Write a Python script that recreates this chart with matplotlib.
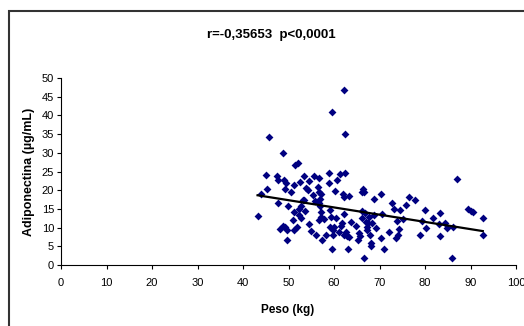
import numpy as np
import matplotlib
matplotlib.use("Agg")
import matplotlib.pyplot as plt
from matplotlib.patches import Rectangle

peso = [43.2, 44.0, 45.1, 45.3, 45.8, 47.5, 47.8, 47.8, 48.1, 48.9, 48.7, 49.0, 49.2, 49.5,
        49.2, 49.6, 49.6, 49.8, 50.6, 50.9, 51.1, 51.1, 51.3, 51.4, 52.0, 51.8, 52.2, 52.3,
        52.5, 52.7, 52.8, 53.1, 53.4, 53.4, 53.6, 53.8, 54.2, 54.4, 54.4, 54.9, 55.3, 55.5,
        55.8, 56.0, 56.4, 56.6, 56.7, 56.7, 56.8, 56.9, 56.9, 57.1, 57.1, 57.1, 57.3, 57.7,
        58.2, 58.9, 59.0, 59.1, 59.2, 59.3, 59.5, 59.6, 59.7, 59.7, 60.0, 60.2, 60.4, 60.7,
        61.0, 61.3, 61.5, 61.7, 61.9, 62.1, 62.1, 62.2, 62.3, 62.5, 62.5, 62.6, 62.8, 63.0,
        63.2, 63.2, 63.8, 64.8, 65.2, 65.5, 65.8, 66.1, 66.1, 66.3, 66.2, 66.7, 66.7, 66.9,
        67.0, 67.2, 67.3, 67.5, 67.8, 68.0, 68.1, 68.1, 68.4, 68.7, 68.8, 69.2, 70.3, 70.3,
        70.6, 70.9, 72.0, 72.8, 73.1, 73.6, 73.8, 74.0, 74.2, 74.4, 75.2, 75.9, 76.5, 77.8,
        78.9, 79.3, 79.9, 80.2, 81.8, 83.0, 83.2, 83.4, 84.5, 84.9, 86.0, 86.2, 87.0, 89.5,
        90.0, 90.5, 92.7, 92.7]
adiponectina = [13.2, 19.1, 24.1, 20.3, 34.1, 23.8, 22.6, 16.6, 9.7, 30.0, 10.5, 22.6, 20.4, 22.0,
                10.1, 9.3, 6.7, 15.8, 19.5, 12.0, 14.3, 9.3, 21.5, 26.7, 27.4, 10.2, 15.0, 13.5,
                22.2, 12.5, 15.7, 17.5, 23.8, 17.3, 14.4, 20.6, 20.0, 22.4, 10.9, 9.0, 18.7, 23.8,
                17.2, 8.1, 20.8, 19.4, 23.2, 16.6, 12.0, 17.6, 15.8, 19.1, 14.1, 12.9, 6.7, 12.4,
                8.0, 22.0, 24.6, 14.7, 10.2, 12.9, 4.4, 40.8, 9.3, 8.0, 10.2, 19.8, 12.6, 22.7,
                8.7, 24.3, 10.4, 11.1, 19.0, 18.2, 46.9, 8.0, 13.6, 35.1, 24.6, 8.9, 7.7, 4.2,
                18.5, 7.6, 11.5, 10.4, 6.7, 8.5, 7.7, 14.5, 12.7, 20.2, 19.6, 19.4, 1.8, 14.0,
                11.6, 9.3, 10.2, 11.1, 12.9, 8.0, 5.8, 5.1, 11.3, 17.6, 13.3, 9.8, 19.0, 7.3,
                13.7, 4.2, 8.7, 16.7, 14.9, 7.3, 11.8, 8.0, 9.5, 14.7, 12.2, 16.1, 18.2, 17.5,
                8.0, 11.7, 14.7, 9.8, 12.6, 10.9, 7.7, 13.8, 11.1, 10.0, 1.8, 10.2, 23.1, 14.9,
                14.5, 14.1, 12.6, 8.0]

x_ticks = [0, 10, 20, 30, 40, 50, 60, 70, 80, 90, 100]
y_ticks = [0, 5, 10, 15, 20, 25, 30, 35, 40, 45, 50]
title = "r=-0,35653  p<0,0001"
xlabel = "Peso (kg)"
ylabel = "Adiponectina (µg/mL)"

plt.rcParams['font.family'] = ['Liberation Sans', 'DejaVu Sans']

fig = plt.figure(figsize=(5.24, 3.26), dpi=100)
fig.patch.set_facecolor('white')
ax = fig.add_axes([61/524, 61/326, 455/524, 187/326])

x = np.array(peso)
y = np.array(adiponectina)
ax.scatter(x, y, marker='D', s=16, color='#000080', linewidths=0, zorder=3)

slope, intercept = np.polyfit(x, y, 1)
xl = np.array([x.min(), x.max()])
ax.plot(xl, slope * xl + intercept, color='black', lw=1.6, zorder=4)

ax.set_xlim(0, 100)
ax.set_ylim(0, 50)
ax.set_xticks(x_ticks)
ax.set_yticks(y_ticks)
ax.tick_params(axis='both', direction='out', length=3, width=0.8, labelsize=8, color='black')
ax.tick_params(axis='x', pad=6)
ax.tick_params(axis='y', pad=2)
for s in ['top', 'right']:
    ax.spines[s].set_visible(False)
for s in ['left', 'bottom']:
    ax.spines[s].set_linewidth(0.8)
ax.patch.set_alpha(0)

fig.text(271/524, 1 - 35/326, title, ha='center', va='center', fontsize=9.5, fontweight='bold')
fig.text(288/524, 1 - 310/326, xlabel, ha='center', va='center', fontsize=8.5, fontweight='bold')
yl = fig.text(29/524, 1 - 172/326, ylabel, ha='center', va='center', fontsize=9, fontweight='bold',
              rotation=90)
yl.set_fontstretch('expanded')

fig.patches.append(Rectangle((9/524, -0.1), 1.2, 1 - 11/326 + 0.1, transform=fig.transFigure,
                             fill=False, edgecolor='#333333', lw=1.5, zorder=0))

fig.savefig('out.png', dpi=100)
